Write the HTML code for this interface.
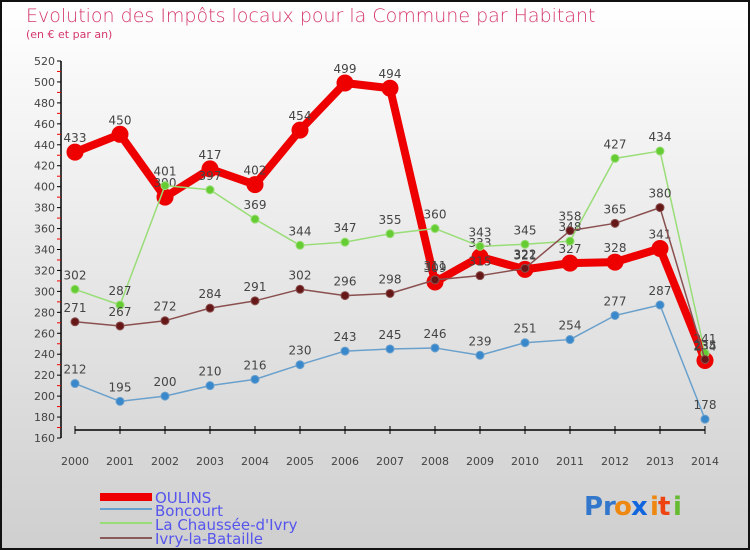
<!DOCTYPE html>
<html><head><meta charset="utf-8"><style>
body{margin:0}
#c{width:750px;height:550px;position:relative;overflow:hidden}
text{font-family:"DejaVu Sans","Liberation Sans",sans-serif}
</style></head><body>
<div id="c">
<svg id="s" width="750" height="550" xmlns="http://www.w3.org/2000/svg">
<defs><linearGradient id="bg" x1="0" y1="0" x2="0" y2="1"><stop offset="0" stop-color="#ffffff"/><stop offset="1" stop-color="#cfcfcf"/></linearGradient></defs>
<rect x="1" y="1" width="748" height="548" fill="url(#bg)" stroke="#111" stroke-width="2"/>
<text x="26" y="22" font-size="19" fill="#d4386a" font-weight="200">Evolution des Impôts locaux pour la Commune par Habitant</text>
<text x="26" y="38" font-size="11" fill="#d4386a">(en € et par an)</text>
<g id="axes"></g><g id="series"></g>
<g font-size="15" fill="#5555ee">
<rect x="100" y="493" width="52" height="8" fill="#ee0000"/><text x="155" y="503" fill="#5555ee">OULINS</text>
<rect x="100" y="508" width="52" height="2" fill="#6aa0cc"/><text x="155" y="516" fill="#5555ee">Boncourt</text>
<rect x="100" y="522" width="52" height="2" fill="#99dd77"/><text x="155" y="530" fill="#5555ee">La Chaussée-d'Ivry</text>
<rect x="100" y="537" width="52" height="2" fill="#8a5a5a"/><text x="155" y="544" fill="#5555ee">Ivry-la-Bataille</text>
</g>
<g font-size="26" font-weight="bold">
<text x="584" y="515" fill="#3377cc">Pr</text><text x="614" y="515" fill="#ee8811">o</text><text x="631" y="515" fill="#1166dd">x</text><text x="650" y="515" fill="#ee8811">i</text><text x="658" y="515" fill="#ee4411">t</text><text x="673" y="515" fill="#66bb33">i</text>
</g>
</svg></div>
<script>
const years=[2000,2001,2002,2003,2004,2005,2006,2007,2008,2009,2010,2011,2012,2013,2014];
const yTicks=[160,180,200,220,240,260,280,300,320,340,360,380,400,420,440,460,480,500,520];
const oulins=[433,450,390,417,402,454,499,494,309,333,321,327,328,341,234];
const boncourt=[212,195,200,210,216,230,243,245,246,239,251,254,277,287,178];
const chaussee=[302,287,401,397,369,344,347,355,360,343,345,348,427,434,241];
const ivry=[271,267,272,284,291,302,296,298,311,315,322,358,365,380,235];
const NS='http://www.w3.org/2000/svg';
const X=i=>75+i*45, Y=v=>438-(v-160)*377/360;
function mk(t,a,p){const e=document.createElementNS(NS,t);for(const k in a)e.setAttribute(k,a[k]);p.appendChild(e);return e;}
const ax=document.getElementById('axes');
mk('line',{x1:61,y1:61,x2:61,y2:438,stroke:'#000','stroke-width':1.5},ax);
mk('line',{x1:75,y1:430,x2:705,y2:430,stroke:'#000','stroke-width':1.5},ax);
yTicks.forEach((v,i)=>{const y=Y(v);
 mk('line',{x1:57,y1:y,x2:61,y2:y,stroke:'#000'},ax);
 if(i<yTicks.length-1)mk('line',{x1:57,y1:Y(v+10),x2:61,y2:Y(v+10),stroke:'#e00'},ax);
 const t=mk('text',{x:55,y:y+4,'text-anchor':'end','font-size':11,fill:'#444'},ax);t.textContent=v;
 });
years.forEach((yr,i)=>{const x=X(i);
 mk('line',{x1:x,y1:426,x2:x,y2:434,stroke:'#000'},ax);
 const t=mk('text',{x:x,y:465,'text-anchor':'middle','font-size':11,fill:'#444'},ax);t.textContent=yr;
 });
const sg=document.getElementById('series');
function draw(name,d,col,dot,w,r){const g=mk('g',{},sg);
 
 mk('polyline',{points:d.map((v,i)=>X(i)+','+Y(v)).join(' '),fill:'none',stroke:col,'stroke-width':w,'stroke-linejoin':'round'},g);
 d.forEach((v,i)=>{const c=mk('circle',{cx:X(i),cy:Y(v),r:r,fill:dot,stroke:col,'stroke-width':1},g);
  
  const t=mk('text',{x:X(i),y:Y(v)-10,'text-anchor':'middle','font-size':12,fill:'#444'},g);t.textContent=v;
  });}
draw('series-oulins',oulins,'#ee0000','#ee0000',8,8);
draw('series-boncourt',boncourt,'#6aa0cc','#3a88cc',1.5,4);
draw('series-chaussee',chaussee,'#99dd77','#66cc33',1.5,4);
draw('series-ivry',ivry,'#8a5050','#661818',1.5,4);
</script></body></html>
